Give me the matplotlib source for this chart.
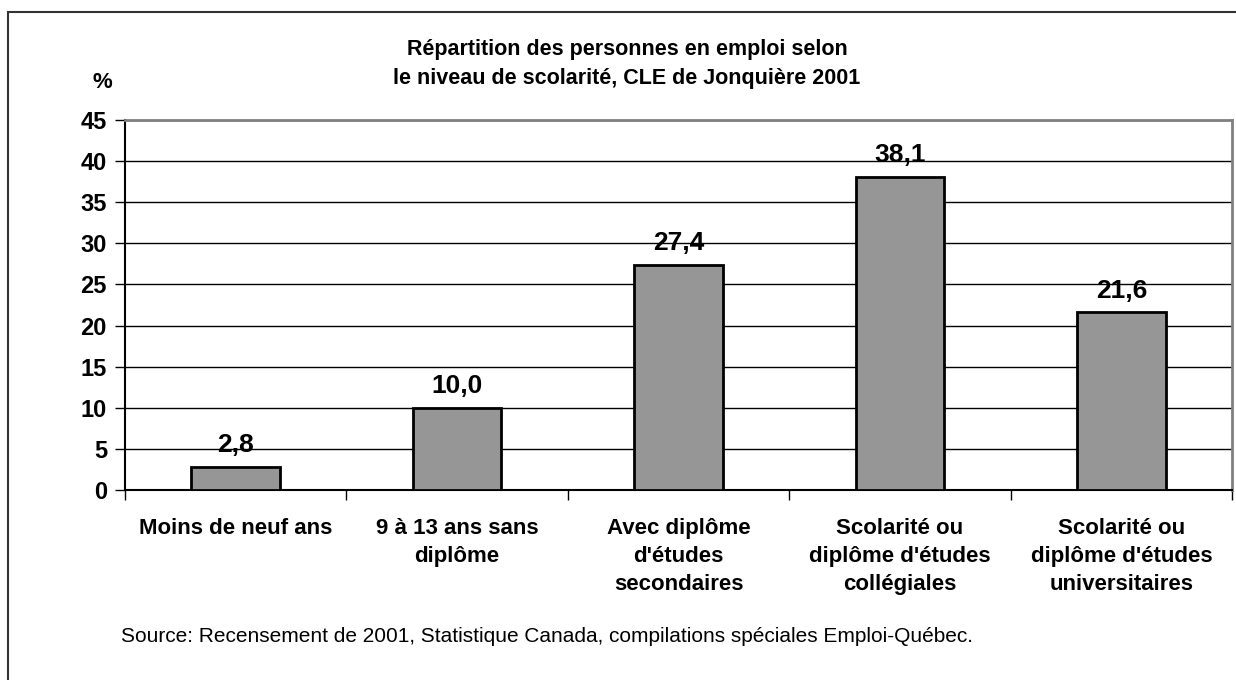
import matplotlib
matplotlib.use("Agg")
import matplotlib.pyplot as plt
from matplotlib.patches import Rectangle
import numpy as np

plt.rcParams['font.family'] = ['Liberation Sans', 'DejaVu Sans']

categories = [
    "Moins de neuf ans",
    "9 à 13 ans sans\ndiplôme",
    "Avec diplôme\nd'études\nsecondaires",
    "Scolarité ou\ndiplôme d'études\ncollégiales",
    "Scolarité ou\ndiplôme d'études\nuniversitaires",
]
values = [2.8, 10.0, 27.4, 38.1, 21.6]
y_ticks = [0, 5, 10, 15, 20, 25, 30, 35, 40, 45]

title = ("Répartition des personnes en emploi selon\n"
         "le niveau de scolarité, CLE de Jonquière 2001")
source = ("Source: Recensement de 2001, Statistique Canada, "
          "compilations spéciales Emploi-Québec.")

fig = plt.figure(figsize=(12.36, 6.8), dpi=100)
ax = fig.add_axes([0.1011, 0.2794, 0.8957, 0.5441])

# cadre extérieur (seulement gauche et haut visibles)
fig.patches.append(Rectangle((8 / 1236, -0.1), 1.2, 0.1 + 1 - 12 / 680,
                             transform=fig.transFigure, fill=False,
                             edgecolor="#333333", linewidth=1.5))

x = np.arange(len(categories))
ax.bar(x, values, width=0.4, color="#969696", edgecolor="black",
       linewidth=2, zorder=3)

for xi, v in zip(x, values):
    ax.text(xi, v + 1.2, f"{v:.1f}".replace(".", ","), ha="center",
            va="bottom", fontsize=19, fontweight="bold")

ax.set_xlim(-0.5, len(categories) - 0.5)
ax.set_ylim(0, 45)
ax.set_yticks(y_ticks)
ax.set_yticklabels([str(t) for t in y_ticks], fontsize=17, fontweight="bold")
ax.tick_params(axis="y", length=7, width=1, pad=6)

ax.set_xticks(x)
ax.set_xticklabels(categories, fontsize=16, fontweight="bold",
                   linespacing=1.45)
ax.set_xticks(np.arange(-0.5, len(categories)), minor=True)
ax.tick_params(axis="x", which="major", length=0, pad=20)
ax.tick_params(axis="x", which="minor", length=7, width=1)

ax.grid(axis="y", color="black", linewidth=1, zorder=0)
ax.spines["top"].set_color("#808080")
ax.spines["right"].set_color("#808080")
ax.spines["top"].set_linewidth(2)
ax.spines["right"].set_linewidth(2)
ax.spines["left"].set_linewidth(1.5)
ax.spines["bottom"].set_linewidth(1.5)

fig.text(627 / 1236, 1 - 64 / 680, title, ha="center", va="center",
         fontsize=15.5, fontweight="bold", linespacing=1.55)
fig.text(102 / 1236, 1 - 83 / 680, "%", ha="center", va="center",
         fontsize=16, fontweight="bold")
fig.text(121 / 1236, 1 - 636 / 680, source, ha="left", va="center",
         fontsize=15)

fig.savefig("out.png", dpi=100)
